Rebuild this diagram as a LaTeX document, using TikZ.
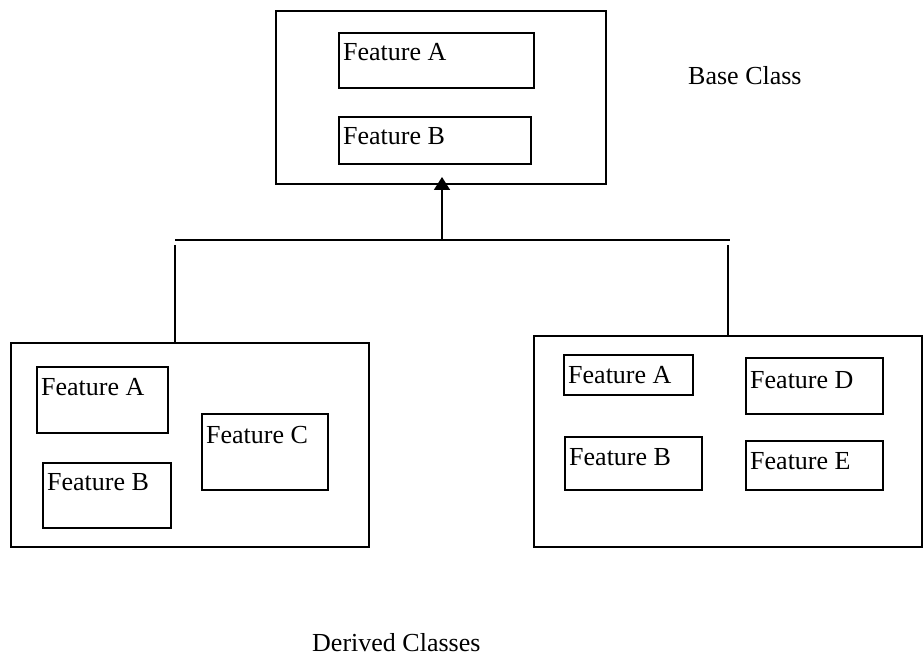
\documentclass[tikz,border=0pt]{standalone}
\usepackage{fontspec}
\setmainfont{Liberation Serif}
\usetikzlibrary{arrows.meta}
\begin{document}
\begin{tikzpicture}[x=1pt,y=-1pt,
  frame/.style={draw, line width=1.8pt},
  featbox/.style={draw, line width=1.6pt},
  feattext/.style={anchor=base west, inner sep=0pt, font=\fontsize{26}{30}\selectfont},
  caption/.style={anchor=base west, inner sep=0pt, font=\fontsize{26}{30}\selectfont},
  wire/.style={line width=1.8pt},
  inherit/.style={line width=1.8pt, -{Triangle[width=16pt,length=13pt]}}
]
\useasboundingbox (0,0) rectangle (923,660);

% a box drawn between two corners, with its label placed on a baseline
\newcommand\featurebox[8]{%
  \node[featbox, inner sep=0pt, anchor=north west,
        minimum width={#4-#2}, minimum height={#5-#3}] (#1) at (#2,#3) {};
  \node[feattext] (#1t) at (#7,#8) {#6};}

% base class
\node[frame, inner sep=0pt, anchor=north west, minimum width=330, minimum height=173] (base) at (275,10) {};
\featurebox{bA}{338}{32}{533}{87}{Feature A}{343}{61}
\featurebox{bB}{338}{116}{530}{163}{Feature B}{343}{145}
\node[caption] (basecap) at (688,85) {Base Class};

% derived classes
\node[frame, inner sep=0pt, anchor=north west, minimum width=358, minimum height=204] (left) at (10,342) {};
\featurebox{lA}{36}{366}{167}{432}{Feature A}{41}{395}
\featurebox{lB}{42}{462}{170}{527}{Feature B}{47}{490}
\featurebox{lC}{201}{413}{327}{489}{Feature C}{206}{443}

\node[frame, inner sep=0pt, anchor=north west, minimum width=388, minimum height=211] (right) at (533,335) {};
\featurebox{rA}{563}{354}{692}{394}{Feature A}{568}{383}
\featurebox{rB}{564}{436}{701}{489}{Feature B}{569}{465}
\featurebox{rD}{745}{357}{882}{413}{Feature D}{750}{388}
\featurebox{rE}{745}{440}{882}{489}{Feature E}{750}{469}

\node[caption] (derivedcap) at (312,651) {Derived Classes};

% inheritance connectors
\coordinate (busL) at (175,240);
\coordinate (busR) at (730,240);
\coordinate (busM) at (442,240);
\coordinate (tip) at (442,177);
\coordinate (dropL) at (175,245);
\coordinate (dropR) at (728,245);
\draw[wire] (busL) -- (busR);
\draw[wire] (dropL) -- (dropL |- left.north);
\draw[wire] (dropR) -- (dropR |- right.north);
\draw[inherit] (busM) -- (tip);
\end{tikzpicture}
\end{document}
